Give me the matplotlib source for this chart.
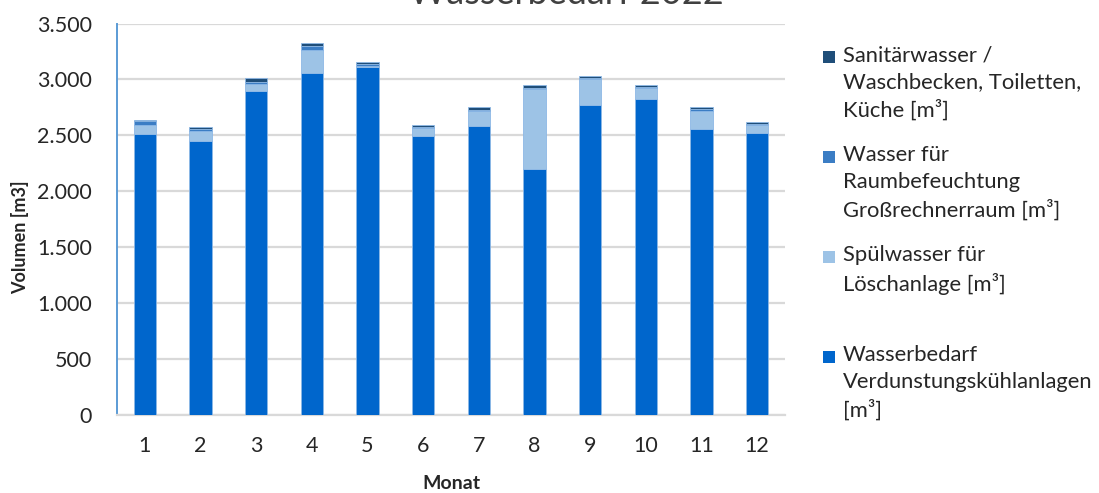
import matplotlib
matplotlib.use("Agg")
import matplotlib.pyplot as plt
from matplotlib.patches import Rectangle
from matplotlib.ticker import FuncFormatter, MultipleLocator
import numpy as np

plt.rcParams['font.family'] = ['Lato', 'DejaVu Sans']

months = [1, 2, 3, 4, 5, 6, 7, 8, 9, 10, 11, 12]
verdunstung = [2515, 2450, 2895, 3055, 3115, 2490, 2585, 2195, 2770, 2825, 2560, 2525]
spuelwasser = [80, 85, 60, 210, 5, 75, 130, 720, 230, 95, 155, 70]
raumbefeuchtung = [30, 20, 20, 35, 15, 10, 15, 5, 10, 10, 20, 10]
sanitaerwasser = [15, 17, 35, 28, 25, 20, 25, 30, 20, 20, 20, 15]

series_labels = [
    "Wasserbedarf\nVerdunstungskühlanlagen\n[m³]",
    "Spülwasser für\nLöschanlage [m³]",
    "Wasser für\nRaumbefeuchtung\nGroßrechnerraum [m³]",
    "Sanitärwasser /\nWaschbecken, Toiletten,\nKüche [m³]",
]
series_values = [verdunstung, spuelwasser, raumbefeuchtung, sanitaerwasser]
series_colors = ["#0066CC", "#9DC3E6", "#3B7DC4", "#1F4E79"]

fig = plt.figure(figsize=(10.99, 4.93), dpi=100)
ax = fig.add_axes([117 / 1099, 1 - 415 / 493, 668 / 1099, 391.5 / 493])

bottom = np.zeros(len(months))
for vals, col in zip(series_values, series_colors):
    ax.bar(months, vals, width=0.4, bottom=bottom, color=col,
           edgecolor="#8DB8E6", linewidth=0.6, zorder=3)
    bottom += np.array(vals)

ax.set_xlim(0.5, 12.5)
ax.set_ylim(0, 3500)
ax.yaxis.set_major_locator(MultipleLocator(500))
ax.yaxis.set_major_formatter(FuncFormatter(lambda v, p: f"{int(v):,}".replace(",", ".")))
ax.set_xticks(months)
ax.set_xticklabels([str(m) for m in months])

ax.grid(axis="y", color="#D9D9D9", linewidth=1.6, zorder=0)
ax.set_axisbelow(True)
for s in ("top", "right"):
    ax.spines[s].set_visible(False)
ax.spines["bottom"].set_color("#D9D9D9")
ax.spines["bottom"].set_linewidth(1.6)
ax.spines["left"].set_color("#5B9BD5")
ax.spines["left"].set_linewidth(1.4)
ax.tick_params(axis="both", length=0, labelsize=15.5, colors="#262626")
ax.tick_params(axis="y", pad=18)
ax.tick_params(axis="x", pad=15)

ax.set_xlabel("Monat", fontsize=14, fontweight="bold", color="#262626", labelpad=14)
fig.text(20 / 1099, 1 - 237 / 493, "Volumen [m3]", rotation=90, fontsize=13,
         fontweight="bold", color="#262626", ha="center", va="center")

fig.text(566 / 1099, 1 - 4 / 493, "Wasserbedarf 2022", fontsize=26,
         color="#404040", ha="center", va="baseline")

# legend, top entry is the topmost stacked series
legend_tops = [357, 257, 157, 57]
for lab, col, ytop in zip(series_labels, series_colors, legend_tops):
    fig.patches.append(Rectangle((823 / 1099, 1 - (ytop + 6) / 493), 12 / 1099, 12 / 493,
                                 transform=fig.transFigure, facecolor=col,
                                 edgecolor="none"))
    fig.text(843 / 1099, 1 - (ytop - 12) / 493, lab, fontsize=15.8, color="#262626",
             ha="left", va="top", linespacing=1.42)

fig.savefig("out.png", dpi=100, facecolor="white")
